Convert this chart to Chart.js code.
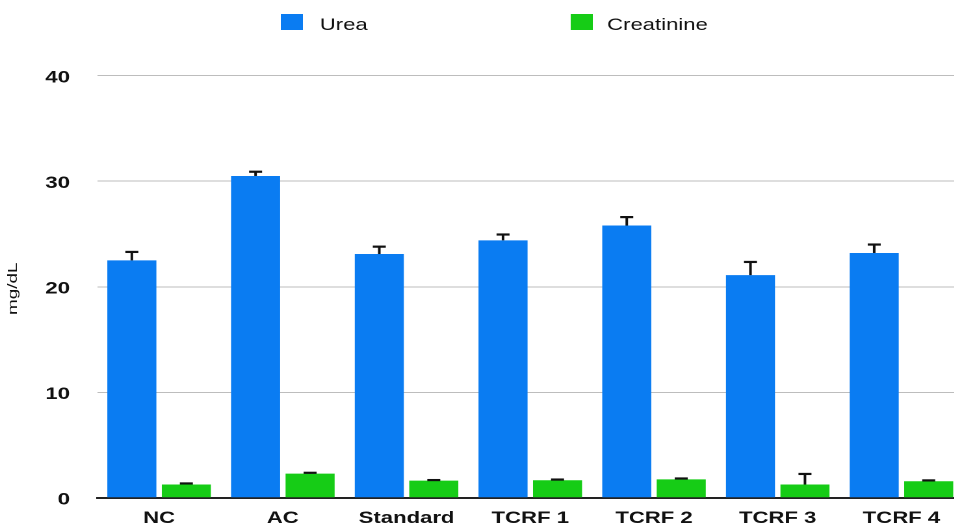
<!DOCTYPE html>
<html>
<head>
<meta charset="utf-8">
<script src="https://cdn.jsdelivr.net/npm/chart.js@4/dist/chart.umd.min.js"></script>
<style>
  html, body { margin: 0; padding: 0; background: #ffffff; overflow: hidden; width: 954px; height: 529px; }
  #frame { position: relative; width: 954px; height: 529px; overflow: hidden; }
  /* the whole drawing uses a wide, horizontally extended typeface look */
  #wrap { position: absolute; left: 0; top: 0; width: 741px; height: 529px; transform: scaleX(1.3); transform-origin: 0 0; }
  canvas { display: block; }
</style>
</head>
<body>
<div id="frame"><div id="wrap"><canvas id="chart" width="741" height="529"></canvas></div></div>
<script>
// Serum urea and creatinine per group (mg/dL), mean with upper error bar
const categories = ['NC', 'AC', 'Standard', 'TCRF 1', 'TCRF 2', 'TCRF 3', 'TCRF 4'];
const ureaMean   = [22.5, 30.5, 23.1, 24.4, 25.8, 21.1, 23.2];
const ureaErr    = [0.8, 0.4, 0.7, 0.55, 0.8, 1.25, 0.8];
const creatMean  = [1.26, 2.29, 1.63, 1.66, 1.75, 1.26, 1.57];
const creatErr   = [0.1, 0.08, 0.05, 0.07, 0.08, 1.0, 0.08];
const yTicks     = [0, 10, 20, 30, 40];
const seriesNames = ['Urea', 'Creatinine'];
const axisTitle   = 'mg/dL';

const BLUE = '#0a7cf2';
const GREEN = '#16cc16';
const STRETCH = 1.3; // matches the CSS scaleX on #wrap

// upper-half error bars (T shape) above every bar
const errorBars = {
  id: 'errorBars',
  afterDatasetsDraw(chart) {
    const ctx = chart.ctx;
    const yScale = chart.scales.y;
    chart.data.datasets.forEach((ds, i) => {
      const meta = chart.getDatasetMeta(i);
      meta.data.forEach((bar, j) => {
        const top = yScale.getPixelForValue(ds.data[j] + ds.errors[j]);
        ctx.save();
        ctx.strokeStyle = '#111111';
        ctx.lineWidth = 2;
        ctx.beginPath();
        ctx.moveTo(bar.x, bar.y);
        ctx.lineTo(bar.x, top);
        ctx.stroke();
        ctx.lineWidth = 2.2;
        ctx.beginPath();
        ctx.moveTo(bar.x - 5, top);
        ctx.lineTo(bar.x + 5, top);
        ctx.stroke();
        ctx.restore();
      });
    });
  }
};

// legend row across the top, one entry per dataset
const topLegend = {
  id: 'topLegend',
  afterDraw(chart, args, opts) {
    const ctx = chart.ctx;
    ctx.save();
    chart.data.datasets.forEach((ds, i) => {
      const x = opts.boxX[i];
      ctx.fillStyle = ds.backgroundColor;
      ctx.fillRect(x, opts.boxY, opts.boxW, opts.boxH);
      ctx.fillStyle = '#111111';
      ctx.font = opts.font;
      ctx.textAlign = 'left';
      ctx.textBaseline = 'alphabetic';
      ctx.fillText(ds.label, opts.textX[i], opts.baseline);
    });
    ctx.restore();
  }
};

// rotated y-axis title
const yTitle = {
  id: 'yTitle',
  afterDraw(chart, args, opts) {
    const ctx = chart.ctx;
    const area = chart.chartArea;
    ctx.save();
    ctx.translate(opts.x, (area.top + area.bottom) / 2 + opts.dy);
    ctx.rotate(-Math.PI / 2);
    ctx.scale(opts.widen, 1 / STRETCH);
    ctx.font = opts.font;
    ctx.fillStyle = '#111111';
    ctx.textAlign = 'center';
    ctx.textBaseline = 'alphabetic';
    ctx.fillText(opts.text, 0, 0);
    ctx.restore();
  }
};

new Chart(document.getElementById('chart'), {
  type: 'bar',
  data: {
    labels: categories,
    datasets: [
      { label: seriesNames[0], data: ureaMean, errors: ureaErr, backgroundColor: BLUE, borderWidth: 0 },
      { label: seriesNames[1], data: creatMean, errors: creatErr, backgroundColor: GREEN, borderWidth: 0 }
    ]
  },
  options: {
    responsive: false,
    animation: false,
    devicePixelRatio: 2,
    datasets: { bar: { categoryPercentage: 0.881, barPercentage: 0.9 } },
    layout: { padding: { top: 75.7, left: 0, right: 0, bottom: 0 } },
    plugins: {
      legend: { display: false },
      tooltip: { enabled: false },
      topLegend: {
        boxX: [216, 439], textX: [246, 467], boxY: 14, boxW: 17, boxH: 16,
        baseline: 30, font: '17px "Liberation Sans", Arial, sans-serif'
      },
      yTitle: { text: axisTitle, x: 13.1, dy: 2, widen: 1.45, font: '13px "Liberation Sans", Arial, sans-serif' }
    },
    scales: {
      x: {
        grid: { display: false, drawTicks: false },
        border: { display: true, color: '#222222', width: 2 },
        ticks: {
          color: '#111111',
          font: { family: '"Liberation Sans", Arial, sans-serif', size: 17, weight: 'bold' },
          padding: 10.5,
          maxRotation: 0,
          autoSkip: false
        },
        afterFit(scale) { scale.height = 27.3; }
      },
      y: {
        min: 0,
        max: 40,
        afterBuildTicks(scale) { scale.ticks = yTicks.map(v => ({ value: v })); },
        grid: { color: '#bdbdbd', lineWidth: 1, drawTicks: false },
        border: { display: false },
        ticks: {
          color: '#111111',
          font: { family: '"Liberation Sans", Arial, sans-serif', size: 17, weight: 'bold' },
          padding: 21,
          labelOffset: 2
        },
        afterFit(scale) { scale.width = 74.8; }
      }
    }
  },
  plugins: [errorBars, topLegend, yTitle]
});
</script>
</body>
</html>
